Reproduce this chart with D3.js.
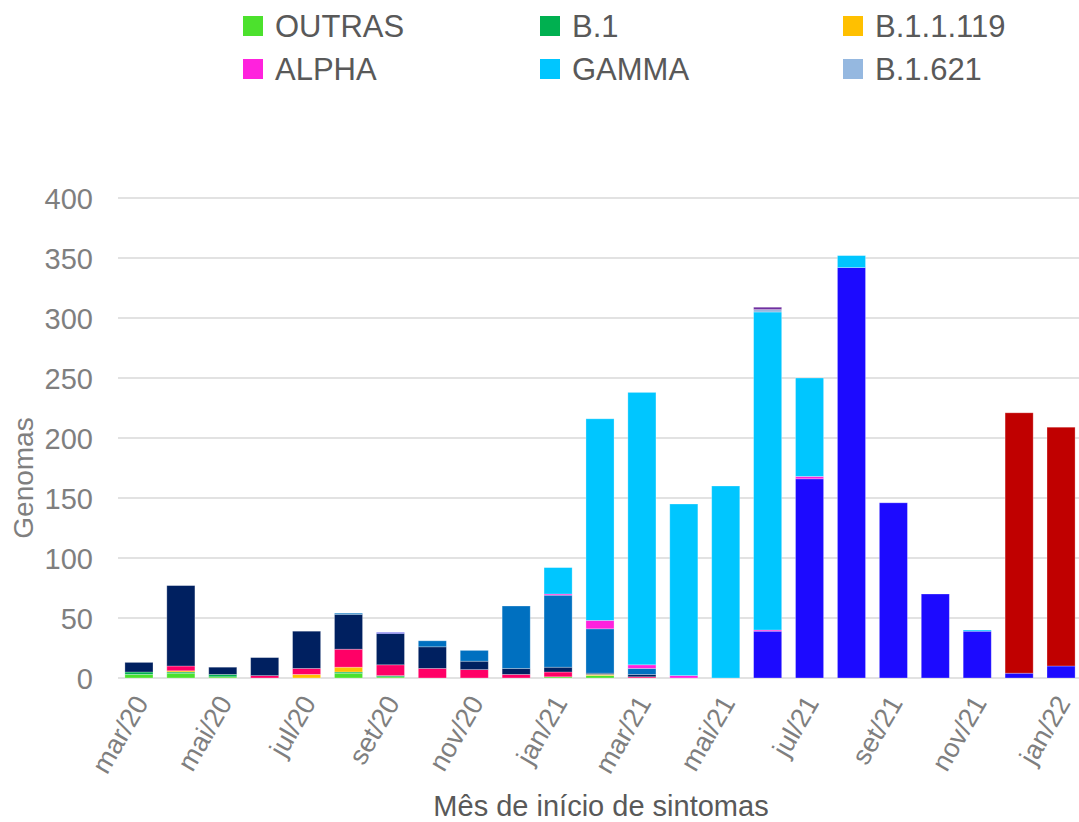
<!DOCTYPE html>
<html><head><meta charset="utf-8">
<script src="https://cdn.jsdelivr.net/npm/d3@7"></script>
<style>body{margin:0;background:#fff}svg{display:block}</style>
</head><body>
<svg id="chart" width="1079" height="822"></svg>
<script>
const months = ["mar/20","abr/20","mai/20","jun/20","jul/20","ago/20","set/20","out/20","nov/20","dez/20","jan/21","fev/21","mar/21","abr/21","mai/21","jun/21","jul/21","ago/21","set/21","out/21","nov/21","dez/21","jan/22"];
const tickLabels = ["mar/20","mai/20","jul/20","set/20","nov/20","jan/21","mar/21","mai/21","jul/21","set/21","nov/21","jan/22"];
const yTicks = [0,50,100,150,200,250,300,350,400];

const outras    = [3,4,1,0,0,4,1,0,0,0,1,2,0,0,0,0,0,0,0,0,0,0,0];
const b1        = [2,1,2,0,0,1,1,0,0,0,0,0,0,0,0,0,0,0,0,0,0,0,0];
const b11119    = [0,1,0,0,3,4,0,0,0,0,0,1,0,0,0,0,0,0,0,0,0,0,0];
const b1128     = [0,4,0,2,5,15,9,8,7,3,4,0,1,0,0,0,0,0,0,0,0,0,0];
const b1133     = [8,67,6,15,31,29,26,18,7,5,4,1,2,0,0,0,0,0,0,0,0,0,0];
const n9        = [0,0,0,0,0,0,1,0,0,0,0,0,0,0,0,0,0,0,0,0,0,0,0];
const p2        = [0,0,0,0,0,1,0,5,9,52,60,37,5,0,0,0,0,0,0,0,0,0,0];
const delta     = [0,0,0,0,0,0,0,0,0,0,0,0,0,0,0,39,166,342,146,70,39,4,10];
const alpha     = [0,0,0,0,0,0,0,0,0,0,1,7,3,2,0,1,2,0,0,0,0,0,0];
const gamma     = [0,0,0,0,0,0,0,0,0,0,22,168,227,143,160,265,82,10,0,0,1,0,0];
const b1621     = [0,0,0,0,0,0,0,0,0,0,0,0,0,0,0,2,0,0,0,0,0,0,0];
const lambda    = [0,0,0,0,0,0,0,0,0,0,0,0,0,0,0,2,0,0,0,0,0,0,0];
const omicron   = [0,0,0,0,0,0,0,0,0,0,0,0,0,0,0,0,0,0,0,0,0,217,199];

const seriesNames  = ["OUTRAS","B.1","B.1.1.119","B.1.1.28","B.1.1.33","N.9","P.2","DELTA","ALPHA","GAMMA","B.1.621","LAMBDA","OMICRON"];
const seriesValues = [outras,b1,b11119,b1128,b1133,n9,p2,delta,alpha,gamma,b1621,lambda,omicron];
const seriesColors = ["#4CE12D","#00B050","#FFC000","#FF0066","#002060","#4040E8","#0070C0","#1C0AFF","#FF22DD","#00C6FF","#95B8E0","#7030A0","#C00000"];
const legendNames  = ["OUTRAS","B.1","B.1.1.119","ALPHA","GAMMA","B.1.621"];

const svg = d3.select("#chart");
const font = "'Liberation Sans', Arial, sans-serif";

const x = d3.scaleBand().domain(months).range([118, 1082]).paddingInner(0.33).paddingOuter(0.165);
const y = d3.scaleLinear().domain([0, 400]).range([678, 198]);

// gridlines
svg.append("g").selectAll("line").data(yTicks).join("line")
  .attr("x1", 118).attr("x2", 1079)
  .attr("y1", d => y(d)).attr("y2", d => y(d))
  .attr("stroke", "#d9d9d9").attr("stroke-width", 1.5);

// y axis labels
const yAxis = d3.axisLeft(y).tickValues(yTicks).tickSize(0).tickPadding(0);
const ya = svg.append("g").attr("transform", "translate(93,0)").call(yAxis);
ya.select(".domain").remove();
ya.selectAll("text").attr("font-family", font).attr("font-size", 29).attr("fill", "#7f7f7f").attr("dy", "0.35em");

// stacked data
const table = months.map((m, i) => {
  const o = {month: m};
  seriesNames.forEach((s, k) => o[s] = seriesValues[k][i]);
  return o;
});
const stack = d3.stack().keys(seriesNames)(table);
const color = d3.scaleOrdinal().domain(seriesNames).range(seriesColors);

svg.append("g").selectAll("g").data(stack).join("g")
  .attr("fill", d => color(d.key))
  .selectAll("rect").data(d => d.filter(p => p[1] - p[0] > 0)).join("rect")
  .attr("x", d => x(d.data.month))
  .attr("width", x.bandwidth())
  .attr("y", d => y(d[1]))
  .attr("height", d => y(d[0]) - y(d[1]))
  .attr("stroke", "rgba(255,255,255,0.35)").attr("stroke-width", 0.8);

// x axis labels
const xAxis = d3.axisBottom(x).tickValues(tickLabels).tickSize(0).tickPadding(0);
const xa = svg.append("g").attr("transform", "translate(0,690)").call(xAxis);
xa.select(".domain").remove();
xa.selectAll("text")
  .attr("font-family", font).attr("font-size", 27).attr("fill", "#7f7f7f")
  .attr("text-anchor", "end").attr("dy", "0.35em")
  .attr("transform", "translate(2,8) rotate(-60)");

// axis titles
svg.append("text").attr("x", 601).attr("y", 816).attr("text-anchor", "middle")
  .attr("font-family", font).attr("font-size", 29).attr("fill", "#595959")
  .text("Mês de início de sintomas");
svg.append("text").attr("transform", "translate(33,478) rotate(-90)").attr("text-anchor", "middle")
  .attr("font-family", font).attr("font-size", 28).attr("fill", "#7f7f7f")
  .text("Genomas");

// legend
const legCols = [243, 540, 843];
const legRows = [26, 69];
const lg = svg.append("g").selectAll("g").data(legendNames).join("g")
  .attr("transform", (d, i) => `translate(${legCols[i % 3]},${legRows[Math.floor(i / 3)]})`);
lg.append("rect").attr("x", 0).attr("y", -10).attr("width", 20).attr("height", 20).attr("fill", d => color(d));
lg.append("text").attr("x", 32).attr("y", 0).attr("dy", "0.36em")
  .attr("font-family", font).attr("font-size", 31).attr("fill", "#595959").text(d => d);
</script>
</body></html>
